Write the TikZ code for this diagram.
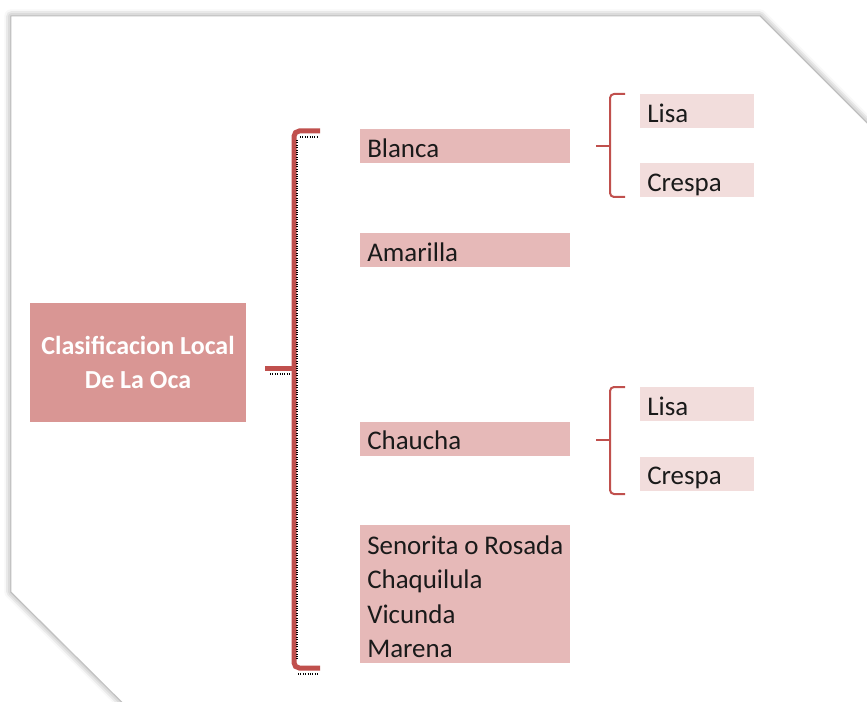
\documentclass[tikz,border=0pt]{standalone}
\usepackage{fontspec}
\setmainfont{Carlito}
\usetikzlibrary{shadows.blur}
\definecolor{mainfill}{HTML}{D99694}
\definecolor{lvlone}{HTML}{E6B9B8}
\definecolor{lvltwo}{HTML}{F2DDDC}
\definecolor{bracered}{HTML}{C0504D}
\definecolor{txt}{HTML}{1A1A1A}
\tikzset{
  px/.style={x=0.75pt,y=-0.75pt},
  mainbox/.style={fill=mainfill,draw=none,minimum width=162pt,minimum height=89.25pt,
    text=white,font=\fontsize{19.5}{25.5}\selectfont\bfseries,align=center,inner sep=0pt},
  lvlbox/.style={fill=lvlone,draw=none,minimum width=157.5pt,minimum height=25.5pt,
    text width=147pt,align=flush left,inner xsep=5.25pt,inner ysep=0pt,text=txt,
    text height=18pt,text depth=1.5pt,
    font=\fontsize{20.2}{25.8}\selectfont},
  subbox/.style={fill=lvltwo,draw=none,minimum width=85.5pt,minimum height=25.5pt,
    text width=75pt,align=flush left,inner xsep=5.25pt,inner ysep=0pt,text=txt,
    text height=18pt,text depth=1.5pt,
    font=\fontsize{20.2}{25.8}\selectfont},
  bigbrace/.style={draw=bracered,line width=3.75pt,rounded corners=4pt},
  smallbrace/.style={draw=bracered,line width=1.5pt,rounded corners=3pt},
  dotmark/.style={draw=black,densely dotted,line width=0.8pt},
}
\begin{document}
\begin{tikzpicture}[px]
\useasboundingbox (0,0) rectangle (867,702);
\begin{scope}
\clip (0,0) rectangle (867,702);
\path[fill=white,draw=black!25,line width=0.6pt,
  blur shadow={shadow xshift=0pt,shadow yshift=0pt,shadow blur radius=5pt,shadow opacity=45}]
  (11,16) -- (760,16) -- (900,156) -- (900,740) -- (160,740) -- (11,592) -- cycle;
\end{scope}

% main node
\node[mainbox] (main) at (138,362.5) {Clasificacion Local\\De La Oca};

% level 1
\node[lvlbox,anchor=north west] (blanca) at (360,129) {Blanca};
\node[lvlbox,anchor=north west] (amarilla) at (360,233) {Amarilla};
\node[lvlbox,anchor=north west] (chaucha) at (360,421.5) {Chaucha};
\node[lvlbox,anchor=north west,minimum height=103.5pt,text height=18pt,text depth=78pt] (senorita) at (360,525)
  {Senorita o Rosada\\Chaquilula\\Vicunda\\Marena};

% level 2
\node[subbox,anchor=north west] (lisa1) at (640,94) {Lisa};
\node[subbox,anchor=north west] (crespa1) at (640,163) {Crespa};
\node[subbox,anchor=north west] (lisa2) at (640,387) {Lisa};
\node[subbox,anchor=north west] (crespa2) at (640,456.5) {Crespa};

% big bracket
\coordinate (btop) at (320,131);
\coordinate (bbot) at (320,668);
\coordinate (bmid) at (265,368);
\draw[dotmark] (300,137) -- (318,137);
\draw[dotmark] (298,674) -- (318,674);
\draw[dotmark] (270,374) -- (290,374);
\draw[bigbrace] (btop) -- (294,131) -- (294,668) -- (bbot);
\draw[bigbrace,rounded corners=0pt] (bmid) -- (294,368);
\draw[dotmark] (297,140) -- (297,660);

% small braces
\coordinate (s1mid) at (596,146);
\draw[smallbrace] (625,94) -- (610,94) -- (610,197) -- (625,197);
\draw[smallbrace,rounded corners=0pt] (s1mid) -- (610,146);
\coordinate (s2mid) at (596,440);
\draw[smallbrace] (625,387) -- (610,387) -- (610,494) -- (625,494);
\draw[smallbrace,rounded corners=0pt] (s2mid) -- (610,440);
\end{tikzpicture}
\end{document}
